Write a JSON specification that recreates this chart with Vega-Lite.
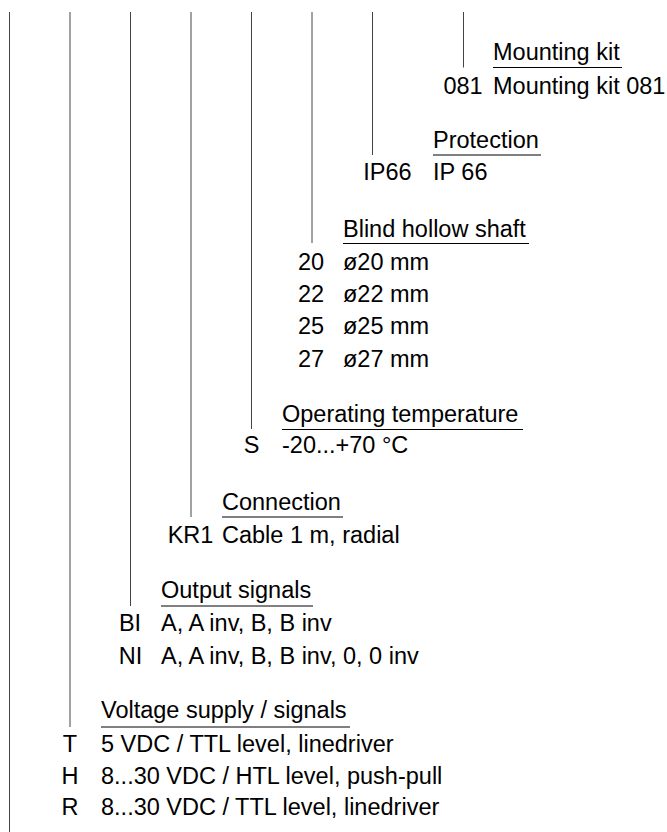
{
  "$schema": "https://vega.github.io/schema/vega-lite/v6.json",
  "width": 667,
  "height": 832,
  "padding": 0,
  "autosize": {"type": "none"},
  "background": "white",
  "config": {"view": {"stroke": null}},
  "datasets": {
    "lines": [
      {"x": 9.5, "y1": 12, "y2": 832},
      {"x": 70, "y1": 12, "y2": 727},
      {"x": 130.5, "y1": 12, "y2": 606},
      {"x": 191, "y1": 12, "y2": 517},
      {"x": 251.5, "y1": 12, "y2": 429},
      {"x": 312, "y1": 12, "y2": 243},
      {"x": 372.5, "y1": 12, "y2": 155},
      {"x": 463.5, "y1": 12, "y2": 67.5}
    ],
    "headers": [
      {"text": "Mounting kit", "x": 493, "y": 60, "x2": 622, "uy": 67.5},
      {"text": "Protection", "x": 433, "y": 148, "x2": 541, "uy": 155},
      {"text": "Blind hollow shaft", "x": 343, "y": 237, "x2": 529, "uy": 243.5},
      {"text": "Operating temperature", "x": 282, "y": 422, "x2": 523, "uy": 429.5},
      {"text": "Connection", "x": 222, "y": 510, "x2": 343, "uy": 517},
      {"text": "Output signals", "x": 161, "y": 598, "x2": 313, "uy": 606},
      {"text": "Voltage supply / signals", "x": 101, "y": 718, "x2": 350, "uy": 727}
    ],
    "rows": [
      {"code": "081", "cx": 463, "desc": "Mounting kit 081", "dx": 493, "y": 94},
      {"code": "IP66", "cx": 387.5, "desc": "IP 66", "dx": 433, "y": 180},
      {"code": "20", "cx": 311, "desc": "ø20 mm", "dx": 343, "y": 270},
      {"code": "22", "cx": 311, "desc": "ø22 mm", "dx": 343, "y": 302},
      {"code": "25", "cx": 311, "desc": "ø25 mm", "dx": 343, "y": 334},
      {"code": "27", "cx": 311, "desc": "ø27 mm", "dx": 343, "y": 366.5},
      {"code": "S", "cx": 251.5, "desc": "-20...+70 °C", "dx": 282, "y": 453},
      {"code": "KR1", "cx": 190.5, "desc": "Cable 1 m, radial", "dx": 222, "y": 543},
      {"code": "BI", "cx": 130, "desc": "A, A inv, B, B inv", "dx": 161, "y": 631},
      {"code": "NI", "cx": 130.5, "desc": "A, A inv, B, B inv, 0, 0 inv", "dx": 161, "y": 664},
      {"code": "T", "cx": 70, "desc": "5 VDC / TTL level, linedriver", "dx": 101, "y": 752},
      {"code": "H", "cx": 70, "desc": "8...30 VDC / HTL level, push-pull", "dx": 101, "y": 783.5},
      {"code": "R", "cx": 70, "desc": "8...30 VDC / TTL level, linedriver", "dx": 101, "y": 815}
    ]
  },
  "layer": [
    {
      "data": {"name": "lines"},
      "mark": {"type": "rule", "color": "#444", "strokeWidth": 1},
      "encoding": {
        "x": {"field": "x", "type": "quantitative", "scale": {"domain": [0, 667]}, "axis": null},
        "y": {"field": "y1", "type": "quantitative", "scale": {"domain": [0, 832], "reverse": true}, "axis": null},
        "y2": {"field": "y2"}
      }
    },
    {
      "data": {"name": "headers"},
      "mark": {"type": "rule", "color": "#000", "strokeWidth": 1},
      "encoding": {
        "x": {"field": "x", "type": "quantitative", "scale": {"domain": [0, 667]}, "axis": null},
        "x2": {"field": "x2"},
        "y": {"field": "uy", "type": "quantitative", "scale": {"domain": [0, 832], "reverse": true}, "axis": null}
      }
    },
    {
      "data": {"name": "headers"},
      "mark": {"type": "text", "align": "left", "baseline": "alphabetic", "font": "Liberation Sans", "fontSize": 23.5, "color": "#000"},
      "encoding": {
        "x": {"field": "x", "type": "quantitative", "scale": {"domain": [0, 667]}, "axis": null},
        "y": {"field": "y", "type": "quantitative", "scale": {"domain": [0, 832], "reverse": true}, "axis": null},
        "text": {"field": "text"}
      }
    },
    {
      "data": {"name": "rows"},
      "mark": {"type": "text", "align": "center", "baseline": "alphabetic", "font": "Liberation Sans", "fontSize": 23.5, "color": "#000"},
      "encoding": {
        "x": {"field": "cx", "type": "quantitative", "scale": {"domain": [0, 667]}, "axis": null},
        "y": {"field": "y", "type": "quantitative", "scale": {"domain": [0, 832], "reverse": true}, "axis": null},
        "text": {"field": "code"}
      }
    },
    {
      "data": {"name": "rows"},
      "mark": {"type": "text", "align": "left", "baseline": "alphabetic", "font": "Liberation Sans", "fontSize": 23.5, "color": "#000"},
      "encoding": {
        "x": {"field": "dx", "type": "quantitative", "scale": {"domain": [0, 667]}, "axis": null},
        "y": {"field": "y", "type": "quantitative", "scale": {"domain": [0, 832], "reverse": true}, "axis": null},
        "text": {"field": "desc"}
      }
    }
  ]
}
